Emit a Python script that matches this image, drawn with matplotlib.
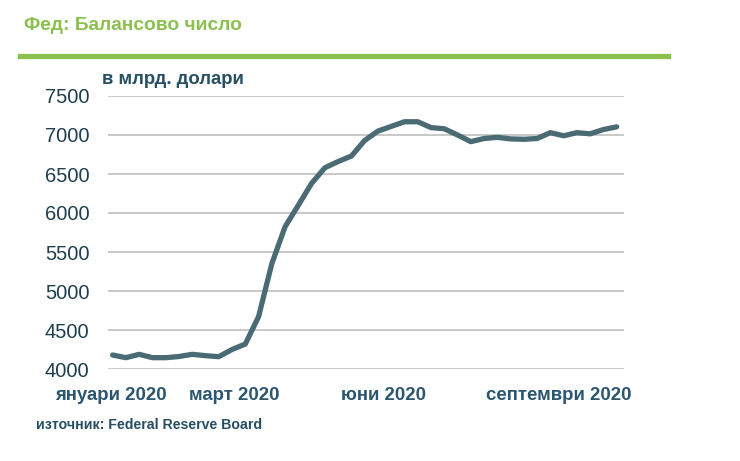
import matplotlib
matplotlib.use("Agg")
import matplotlib.pyplot as plt
from matplotlib.lines import Line2D

# ---- data ----
values = [4179, 4145, 4188, 4145, 4145, 4160, 4188, 4171, 4158, 4250,
          4320, 4670, 5350, 5824, 6100, 6380, 6580, 6660, 6730, 6930,
          7050, 7110, 7170, 7170, 7095, 7080, 7000, 6915, 6955, 6970,
          6950, 6945, 6955, 7030, 6990, 7030, 7015, 7070, 7105]
month_labels = ["януари 2020", "март 2020", "юни 2020", "септември 2020"]
month_pos = [-0.1, 9.17, 20.4, 33.6]
yticks = [4000, 4500, 5000, 5500, 6000, 6500, 7000, 7500]

title = "Фед: Балансово число"
unit = "в млрд. долари"
source = "източник: Federal Reserve Board"

plt.rcParams['font.family'] = ['Liberation Sans', 'DejaVu Sans']

W, H = 740, 461
fig = plt.figure(figsize=(W / 100, H / 100), dpi=100)
fig.patch.set_facecolor("white")

ax = fig.add_axes([108 / W, (H - 369) / H, (624 - 108) / W, (369 - 96) / H])
x = list(range(len(values)))
ax.plot(x, values, color="#4a6b73", lw=3.8, solid_capstyle="round",
        solid_joinstyle="round", clip_on=False, zorder=3)
ax.set_xlim(-0.35, 38.55)
ax.set_ylim(4000, 7500)
ax.set_yticks(yticks)
ax.set_yticklabels([str(v) for v in yticks])
ax.grid(axis="y", color="#c8c8c8", lw=1.4)
ax.set_axisbelow(True)
for s in ax.spines.values():
    s.set_visible(False)
ax.tick_params(axis="y", length=0, pad=13.5, labelsize=14.5, labelcolor="#1e3f4e")
ax.set_xticks(month_pos)
ax.set_xticklabels(month_labels, fontweight="bold")
ax.tick_params(axis="x", length=0, pad=13, labelsize=13.4, labelcolor="#2b5670")

# header
fig.text(24 / W, 1 - 25 / H, title, color="#8bc04f", fontsize=13.8,
         fontweight="bold", va="center", ha="left")
fig.add_artist(Line2D([20 / W, 668 / W], [1 - 56 / H, 1 - 56 / H],
                      color="#8bc04f", lw=3.8, transform=fig.transFigure))
fig.text(102 / W, 1 - 79 / H, unit, color="#264f63", fontsize=13.3,
         fontweight="bold", va="center", ha="left")
fig.text(36 / W, 1 - 425 / H, source, color="#264f63", fontsize=10.2,
         fontweight="bold", va="center", ha="left")

fig.savefig("out.png", dpi=100, facecolor="white")
